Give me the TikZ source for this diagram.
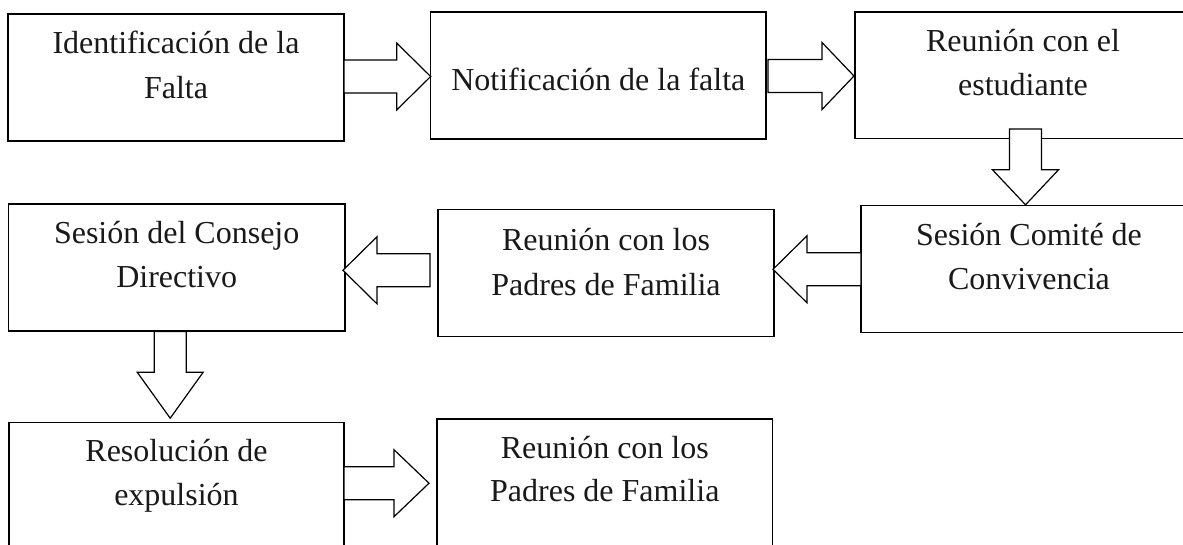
\documentclass[tikz,border=0pt]{standalone}
\usepackage{fontspec}
\setmainfont{Liberation Serif}
\usetikzlibrary{calc}
\tikzset{
  box/.style={draw=black, line width=1.2pt, rectangle, inner sep=0pt, outer sep=0pt, minimum width=336pt, minimum height=127pt},
  txt/.style={anchor=base, inner sep=0pt, outer sep=0pt, font=\fontsize{32}{40}\selectfont, text=black!90},
  barrow/.style={draw=black, line width=1.2pt, fill=white, line join=miter}
}
% horizontal block arrow: start, tip, head length
\newcommand{\blockH}[3]{%
  \draw[barrow] let \p1=(#1), \p2=(#2), \n1={ifthenelse(\x2>\x1,1,-1)} in
    (\x1,\y1+16.5pt) -- (\x2-\n1*#3pt,\y1+16.5pt) -- (\x2-\n1*#3pt,\y1+33.5pt) -- (\x2,\y1)
    -- (\x2-\n1*#3pt,\y1-33.5pt) -- (\x2-\n1*#3pt,\y1-16.5pt) -- (\x1,\y1-16.5pt) -- cycle;}
% vertical block arrow (downwards): start, tip, head length
\newcommand{\blockV}[3]{%
  \draw[barrow] let \p1=(#1), \p2=(#2) in
    (\x1-16pt,\y1) -- (\x1-16pt,\y2+#3pt) -- (\x1-33pt,\y2+#3pt) -- (\x1,\y2)
    -- (\x1+33pt,\y2+#3pt) -- (\x1+16pt,\y2+#3pt) -- (\x1+16pt,\y1) -- cycle;}
\begin{document}
\begin{tikzpicture}[x=1pt, y=-1pt]
  \useasboundingbox (0,0) rectangle (1183,544);
  \fill[white] (0,0) rectangle (1183,544);
  \clip (0,0) rectangle (1183,544);

  % boxes
  \node[box] (b1) at (176,77.5) {};
  \node[box, minimum width=335.3pt] (b2) at (598.3,75.5) {};
  \node[box, minimum height=126.5pt] (b3) at (1023,75.25) {};
  \node[box] (b4) at (1029,269.3) {};
  \node[box] (b5) at (606,273.3) {};
  \node[box, minimum width=336.5pt] (b6) at (176.7,267.5) {};
  \node[box, minimum width=335pt] (b7) at (176.5,486.2) {};
  \node[box, minimum width=335.6pt] (b8) at (604.8,482.5) {};

  % texts
  \node[txt] (t1a) at (176,53.5) {Identificación de la};
  \node[txt] (t1b) at (176,98.3) {Falta};
  \node[txt] (t2a) at (598.3,90.5) {Notificación de la falta};
  \node[txt] (t3a) at (1023,51.7) {Reunión con el};
  \node[txt] (t3b) at (1023,95.7) {estudiante};
  \node[txt] (t4a) at (1029,245) {Sesión Comité de};
  \node[txt] (t4b) at (1029,289) {Convivencia};
  \node[txt] (t5a) at (606,250) {Reunión con los};
  \node[txt] (t5b) at (606,295) {Padres de Familia};
  \node[txt] (t6a) at (176.7,243.3) {Sesión del Consejo};
  \node[txt] (t6b) at (176.7,287.7) {Directivo};
  \node[txt] (t7a) at (176.5,461.7) {Resolución de};
  \node[txt] (t7b) at (176.5,505) {expulsión};
  \node[txt] (t8a) at (604.8,458) {Reunión con los};
  \node[txt] (t8b) at (604.8,501.7) {Padres de Familia};

  % block arrows
  \blockH{$(b1.east)+(0,-1)$}{b2.west}{34}
  \blockH{$(b2.east)+(2,0.5)$}{$(b3.west)+(-1,0)$}{32}
  \blockV{$(b3.south)+(2.5,-9.5)$}{$(b4.north)+(0,-1)$}{35}
  \blockH{b4.west}{$(b5.east)+(-1,0)$}{34}
  \blockH{$(b5.west)+(-8,-3)$}{$(b6.east)+(-2,0)$}{34}
  \blockV{$(b6.south)+(-6.5,0.5)$}{$(b7.north)+(0,-4.5)$}{46}
  \blockH{$(b7.east)+(0,-3)$}{$(b8.west)+(-8,0)$}{35}
\end{tikzpicture}
\end{document}
